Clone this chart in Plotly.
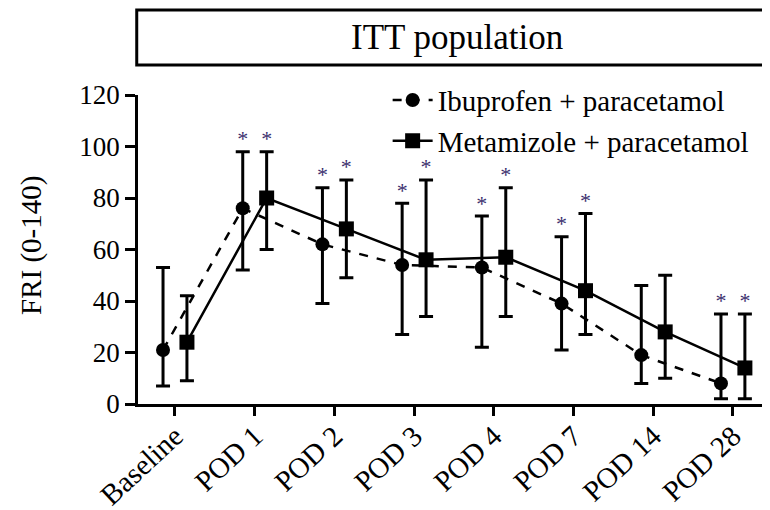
import plotly.graph_objects as go

categories = ["Baseline", "POD 1", "POD 2", "POD 3", "POD 4", "POD 7", "POD 14", "POD 28"]

ibu_mean = [21, 76, 62, 54, 53, 39, 19, 8]
ibu_upper = [53, 98, 84, 78, 73, 65, 46, 35]
ibu_lower = [7, 52, 39, 27, 22, 21, 8, 2]

met_mean = [24, 80, 68, 56, 57, 44, 28, 14]
met_upper = [42, 98, 87, 87, 84, 74, 50, 35]
met_lower = [9, 60, 49, 34, 34, 27, 10, 2]

ibu_sig = [False, True, True, True, True, True, False, True]
met_sig = [False, True, True, True, True, True, False, True]

y_ticks = [0, 20, 40, 60, 80, 100, 120]

FONT = "Liberation Serif"
OFF = 0.15
idx = list(range(len(categories)))
x_ibu = [i - OFF for i in idx]
x_met = [i + OFF for i in idx]

fig = go.Figure()

fig.add_trace(go.Scatter(
    x=x_ibu, y=ibu_mean, mode="lines+markers", name="Ibuprofen + paracetamol",
    line=dict(color="black", width=2.5, dash="dash"),
    marker=dict(symbol="circle", size=14, color="black"),
    error_y=dict(type="data", symmetric=False,
                 array=[u - m for u, m in zip(ibu_upper, ibu_mean)],
                 arrayminus=[m - l for m, l in zip(ibu_mean, ibu_lower)],
                 color="black", thickness=3, width=7),
))
fig.add_trace(go.Scatter(
    x=x_met, y=met_mean, mode="lines+markers", name="Metamizole + paracetamol",
    line=dict(color="black", width=2.5),
    marker=dict(symbol="square", size=15, color="black"),
    error_y=dict(type="data", symmetric=False,
                 array=[u - m for u, m in zip(met_upper, met_mean)],
                 arrayminus=[m - l for m, l in zip(met_mean, met_lower)],
                 color="black", thickness=3, width=7),
))

# significance asterisks
sx = [x for x, s in zip(x_ibu, ibu_sig) if s] + [x for x, s in zip(x_met, met_sig) if s]
sy = [u for u, s in zip(ibu_upper, ibu_sig) if s] + [u for u, s in zip(met_upper, met_sig) if s]
fig.add_trace(go.Scatter(
    x=sx, y=sy, mode="text", text=["*"] * len(sx), textposition="top center",
    textfont=dict(family=FONT, size=22, color="#3b2f6e"), showlegend=False, hoverinfo="skip",
))

fig.update_layout(
    width=770, height=510,
    margin=dict(l=130, r=8, t=87, b=114),
    paper_bgcolor="white", plot_bgcolor="white",
    font=dict(family=FONT, color="black"),
    showlegend=True,
    legend=dict(x=0.395, y=1.066, xanchor="left", yanchor="top",
                font=dict(family=FONT, size=29, color="black"),
                bgcolor="rgba(0,0,0,0)", tracegroupgap=0, itemwidth=40),
    xaxis=dict(
        range=[-0.464, 7.465], tickmode="array", tickvals=idx, ticktext=categories,
        tickangle=-43, ticks="outside", ticklen=9, tickwidth=2.5, tickcolor="black",
        ticklabelstandoff=-8,
        showline=True, linecolor="black", linewidth=2.5, showgrid=False, zeroline=False,
        tickfont=dict(family=FONT, size=29, color="black"),
    ),
    yaxis=dict(
        range=[0, 120], tickmode="array", tickvals=y_ticks,
        ticks="outside", ticklen=10, tickwidth=2.5, tickcolor="black",
        showline=True, linecolor="black", linewidth=2.5, showgrid=False, zeroline=False,
        tickfont=dict(family=FONT, size=27, color="black"),
    ),
    shapes=[dict(type="rect", xref="paper", yref="paper",
                 x0=-0.002, x1=1.05, y0=(404 - 65) / 309, y1=(404 - 10) / 309,
                 line=dict(color="black", width=3), fillcolor="white")],
    annotations=[
        dict(text="ITT population", xref="paper", yref="paper",
             x=(457 - 138) / 632, y=(404 - 37) / 309, showarrow=False,
             font=dict(family=FONT, size=35, color="black"), xanchor="center", yanchor="middle"),
        dict(text="FRI (0-140)", xref="paper", yref="paper",
             x=(31 - 138) / 632, y=(404 - 246) / 309, showarrow=False, textangle=-90,
             font=dict(family=FONT, size=29, color="black"), xanchor="center", yanchor="middle"),
    ],
)

fig.write_html("out.html")
